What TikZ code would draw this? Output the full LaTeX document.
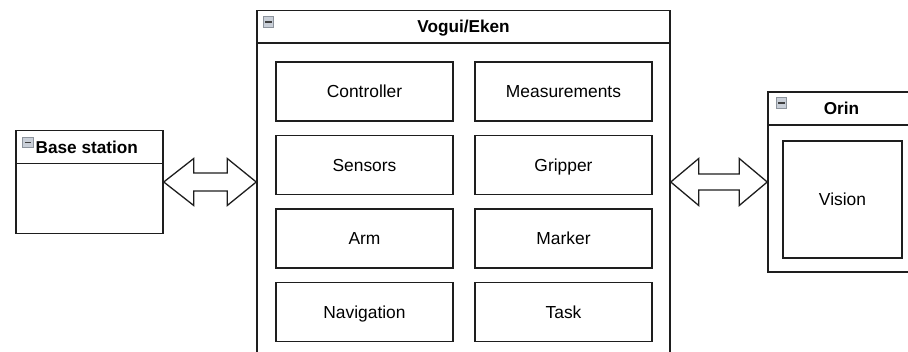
\documentclass[tikz,border=0pt]{standalone}
\usepackage{fontspec}
\setmainfont{Liberation Sans}
\usetikzlibrary{calc}
\definecolor{edge}{HTML}{1E1E1E}
\definecolor{iconfill}{HTML}{C9CFD8}
\definecolor{iconedge}{HTML}{8C939C}
\begin{document}
\begin{tikzpicture}[x=1pt,y=-1pt,
  box/.style={draw=edge, line width=1.5pt, rectangle, inner sep=0pt, fill=white},
  comp/.style={box, minimum width=177pt, minimum height=59pt,
    font=\fontsize{17.4}{19}\selectfont, text height=12.4pt, text depth=0pt},
  ttl/.style={font=\bfseries\fontsize{17.2}{19}\selectfont, inner sep=0pt},
  icon/.style={draw=iconedge, fill=iconfill, minimum size=10.5pt, inner sep=0pt, line width=0.7pt,
    path picture={\draw[line width=1.6pt, black!75]
      ([xshift=2pt]path picture bounding box.west) -- ([xshift=-2pt]path picture bounding box.east);}},
  darrow/.style={draw=edge, line width=1.3pt, fill=white, line join=miter}
]
\useasboundingbox (0,0) rectangle (908,352);
\begin{scope}
\clip (0,0) rectangle (908,352);

% Main container
\node[box, minimum width=413pt, minimum height=342.6pt] (main) at (463.5,182) {};
\draw[edge, line width=1.5pt] ($(main.north west)+(0,33)$) -- ($(main.north east)+(0,33)$);
\node[ttl, anchor=base] (mainttl) at (463.5,33) {Vogui/Eken};
\node[icon] (mainicon) at (268.5,22) {};

% Components
\node[comp] (ctrl) at (364.5,91.5) {Controller};
\node[comp] (meas) at (563.5,91.5) {Measurements};
\node[comp] (sens) at (364.5,165) {Sensors};
\node[comp] (grip) at (563.5,165) {Gripper};
\node[comp] (arm)  at (364.5,238.5) {Arm};
\node[comp] (mark) at (563.5,238.5) {Marker};
\node[comp] (nav)  at (364.5,312) {Navigation};
\node[comp] (task) at (563.5,312) {Task};

% Base station
\node[box, minimum width=147pt, minimum height=103pt] (bs) at (89.5,182) {};
\draw[edge, line width=1.5pt] ($(bs.north west)+(0,34)$) -- ($(bs.north east)+(0,34)$);
\node[icon] (bsicon) at (28,142.5) {};
\node[ttl, anchor=base west] (bsttl) at (35.5,153.5) {Base station};

% Orin
\node[box, minimum width=150pt, minimum height=180pt] (orin) at (843,182) {};
\draw[edge, line width=1.5pt] ($(orin.north west)+(0,34)$) -- ($(orin.north east)+(0,34)$);
\node[icon] (orinicon) at (781.5,103) {};
\node[ttl, anchor=base] (orinttl) at (841.5,114.3) {Orin};
\node[comp, minimum width=119pt, minimum height=117pt] (vision) at (842.5,199.5) {Vision};

% Double arrows
\path (bs.east) coordinate (la1) (main.west) coordinate (la2);
\draw[darrow] (la1) -- ($(la1)+(30,-23.5)$) -- ($(la1)+(30,-9)$) -- ($(la2)+(-29,-9)$)
  -- ($(la2)+(-29,-23.5)$) -- (la2) -- ($(la2)+(-29,23.5)$) -- ($(la2)+(-29,9)$)
  -- ($(la1)+(30,9)$) -- ($(la1)+(30,23.5)$) -- cycle;

\path (main.east) coordinate (ra1) (orin.west) coordinate (ra2);
\draw[darrow] (ra1) -- ($(ra1)+(28,-23.5)$) -- ($(ra1)+(28,-8)$) -- ($(ra2)+(-28,-8)$)
  -- ($(ra2)+(-28,-23.5)$) -- (ra2) -- ($(ra2)+(-28,23.5)$) -- ($(ra2)+(-28,8)$)
  -- ($(ra1)+(28,8)$) -- ($(ra1)+(28,23.5)$) -- cycle;
\end{scope}
\end{tikzpicture}
\end{document}
